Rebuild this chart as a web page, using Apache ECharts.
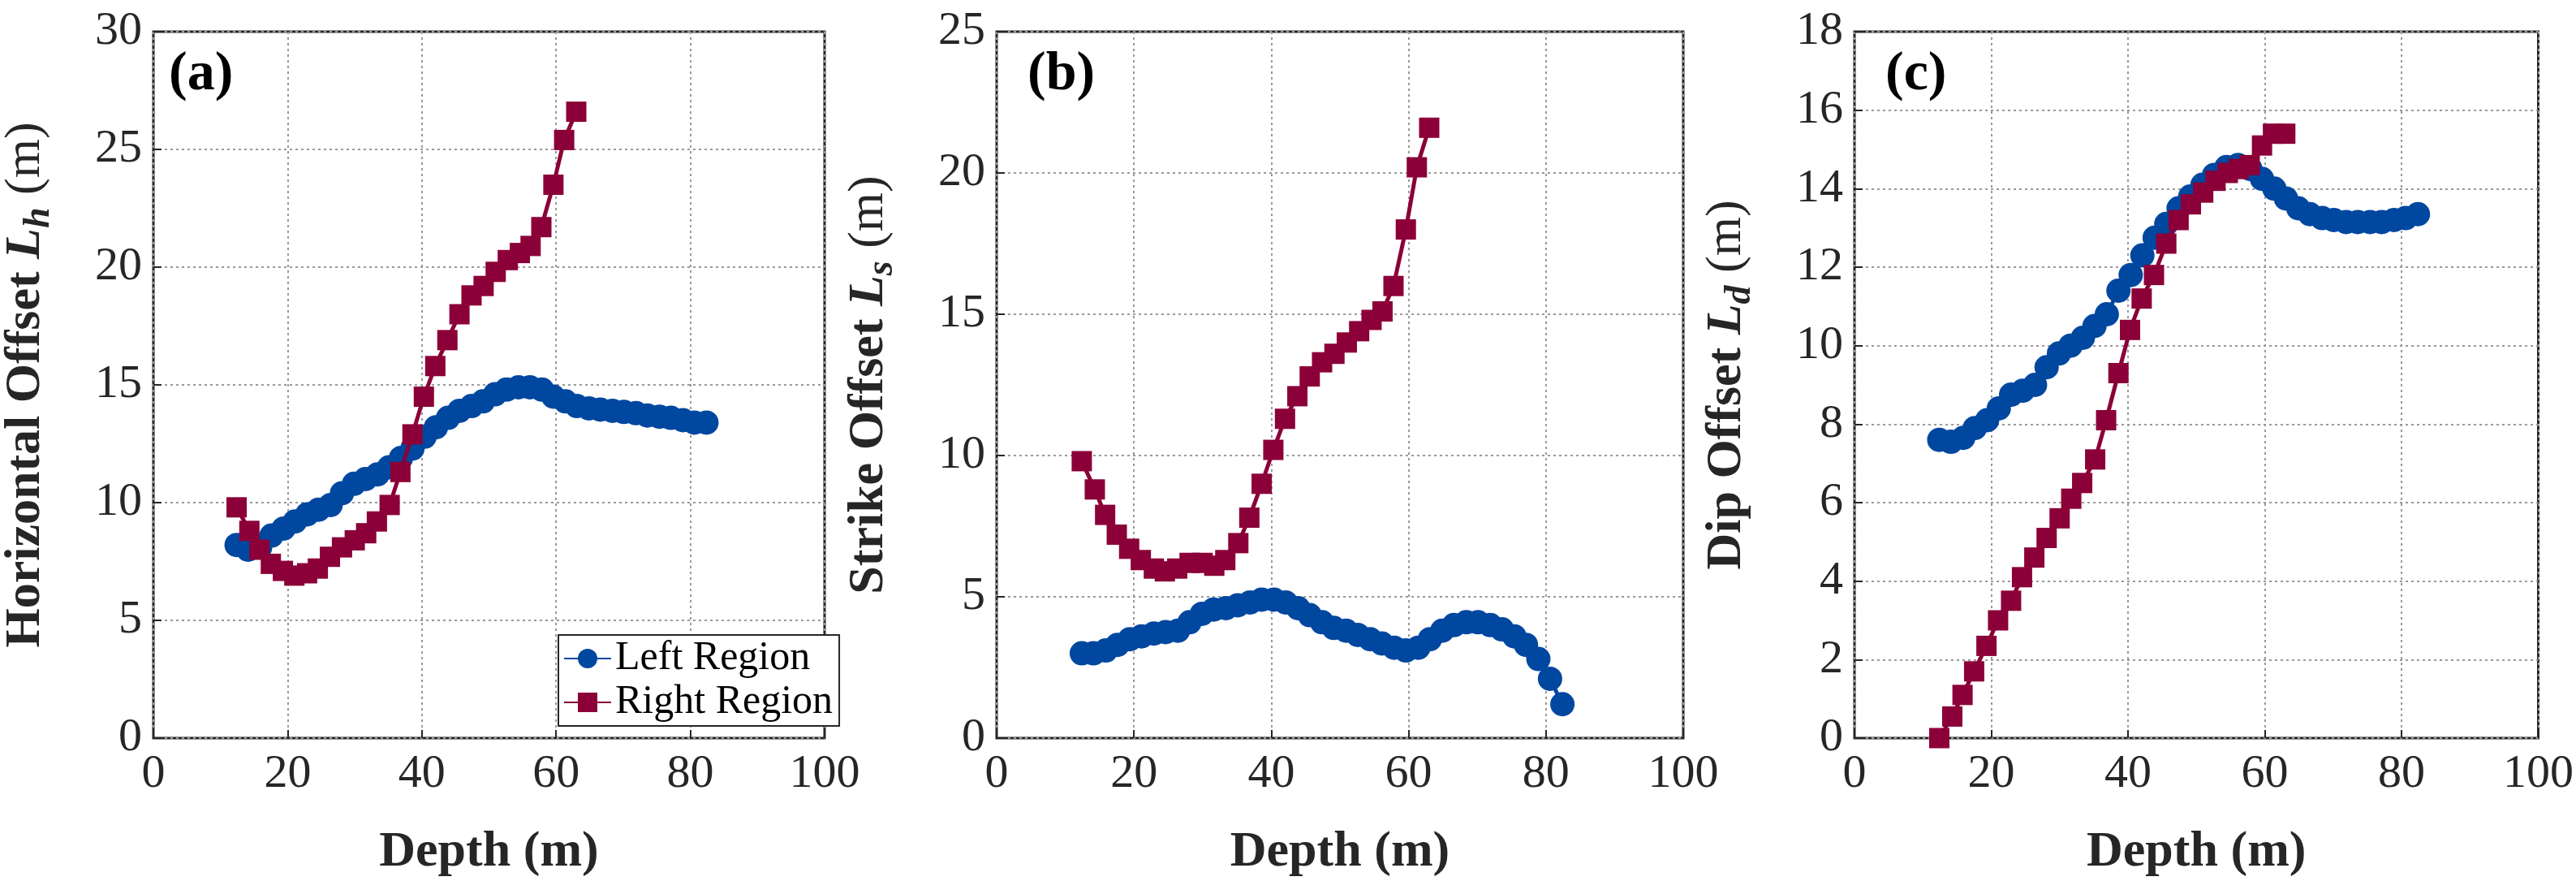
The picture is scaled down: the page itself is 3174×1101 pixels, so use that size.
<!DOCTYPE html>
<html>
<head>
<meta charset="utf-8">
<script src="https://cdn.jsdelivr.net/npm/echarts@6/dist/echarts.min.js"></script>
<style>html,body{margin:0;padding:0;background:#fff}#main{width:3174px;height:1101px}</style>
</head>
<body>
<div id="main"></div>
<script>
// depths (m)
var depthLeft = [12.4,14.1,15.9,17.6,19.4,21.1,22.9,24.6,26.4,28.1,29.9,31.6,33.4,35.1,36.9,38.6,40.4,42.1,43.9,45.6,47.4,49.1,50.9,52.6,54.4,56.1,57.9,59.6,61.4,63.1,64.9,66.6,68.4,70.1,71.9,73.6,75.4,77.1,78.9,80.6,82.4];
var depthRight = [12.4,14.3,15.8,17.5,19.3,21.0,22.9,24.5,26.3,28.1,30.0,31.7,33.3,35.2,36.8,38.6,40.3,42.0,43.8,45.6,47.4,49.2,51.0,52.8,54.6,56.2,57.8,59.6,61.2,63.0];

// (a) horizontal offset
var hLeft = [8.2,8.0,8.1,8.6,8.9,9.2,9.5,9.7,9.9,10.4,10.8,11.0,11.2,11.5,11.9,12.3,12.8,13.2,13.6,13.9,14.1,14.3,14.6,14.8,14.9,14.9,14.8,14.5,14.3,14.1,14.0,13.95,13.9,13.85,13.8,13.7,13.65,13.6,13.5,13.4,13.4];
var hRight = [9.8,8.8,8.0,7.4,7.1,6.9,7.0,7.2,7.7,8.1,8.4,8.7,9.2,9.9,11.3,12.9,14.5,15.8,16.9,18.0,18.8,19.2,19.8,20.3,20.6,20.9,21.7,23.5,25.4,26.6];
// (b) strike offset
var sLeft = [3.0,3.0,3.1,3.3,3.5,3.6,3.7,3.75,3.8,4.1,4.4,4.55,4.6,4.7,4.8,4.9,4.9,4.8,4.6,4.35,4.1,3.9,3.8,3.65,3.5,3.35,3.2,3.1,3.2,3.5,3.8,4.0,4.1,4.1,4.0,3.85,3.6,3.3,2.8,2.1,1.2];
var sRight = [9.8,8.8,7.9,7.2,6.7,6.3,6.0,5.9,6.0,6.2,6.2,6.1,6.3,6.9,7.8,9.0,10.2,11.3,12.1,12.8,13.3,13.6,14.0,14.4,14.8,15.1,16.0,18.0,20.2,21.6];
// (c) dip offset
var dLeft = [7.6,7.55,7.65,7.9,8.1,8.4,8.75,8.85,9.0,9.45,9.8,10.0,10.2,10.5,10.8,11.4,11.8,12.3,12.75,13.1,13.5,13.8,14.1,14.35,14.55,14.6,14.5,14.25,14.0,13.75,13.5,13.35,13.25,13.2,13.15,13.15,13.15,13.15,13.2,13.25,13.35];
var dRight = [0.0,0.55,1.1,1.7,2.35,3.0,3.5,4.1,4.6,5.1,5.6,6.1,6.5,7.1,8.1,9.3,10.4,11.2,11.8,12.6,13.2,13.6,13.9,14.2,14.4,14.5,14.6,15.1,15.4,15.4];

var yNames = [['Horizontal Offset ', 'h'], ['Strike Offset ', 's'], ['Dip Offset ', 'd']];
var yMax = [30, 25, 18];
var yInterval = [5, 5, 2];
var panelLabels = ['(a)', '(b)', '(c)'];
var gridLefts = [170, 1228, 2285];

var blue = '#0047a0', red = '#8b0038';
var font = 'Liberation Serif, Times New Roman, serif';

function pairs(xs, ys){
    var out = [];
    for (var i = 0; i < xs.length; i++) out.push([xs[i], ys[i]]);
    return out;
}

var leftSets = [hLeft, sLeft, dLeft];
var rightSets = [hRight, sRight, dRight];

var grids = [], xAxes = [], yAxes = [], series = [], graphics = [];
for (var k = 0; k < 3; k++) {
    grids.push({left: gridLefts[k], top: 39, width: 846, height: 870, show: true, borderColor: '#262626', borderWidth: 3, backgroundColor: 'transparent'});
    xAxes.push({
        gridIndex: k, type: 'value', min: 0, max: 100, interval: 20,
        name: 'Depth (m)', nameLocation: 'middle', nameGap: 110,
        nameTextStyle: {fontFamily: font, fontWeight: 'bold', fontSize: 62, color: '#262626'},
        axisLine: {show: false},
        axisTick: {inside: true, length: 10, lineStyle: {color: '#262626', width: 2}},
        axisLabel: {fontFamily: font, fontSize: 58, color: '#262626', margin: 16},
        splitLine: {lineStyle: {color: '#999', type: [3, 4], width: 2}}
    });
    yAxes.push({
        gridIndex: k, type: 'value', min: 0, max: yMax[k], interval: yInterval[k],
        name: '{b|' + yNames[k][0] + '}{i|L}{s|' + yNames[k][1] + '}{r| (m)}',
        nameLocation: 'middle', nameGap: 118, nameRotate: 90,
        nameTextStyle: {
            fontFamily: font, fontSize: 62, color: '#262626',
            rich: {
                b: {fontFamily: font, fontWeight: 'bold', fontSize: 62, color: '#262626'},
                i: {fontFamily: font, fontWeight: 'bold', fontStyle: 'italic', fontSize: 62, color: '#262626'},
                s: {fontFamily: font, fontWeight: 'bold', fontStyle: 'italic', fontSize: 46, color: '#262626', padding: [32, 0, 0, 0]},
                r: {fontFamily: font, fontSize: 62, color: '#262626'}
            }
        },
        axisLine: {show: false},
        axisTick: {inside: true, length: 10, lineStyle: {color: '#262626', width: 2}},
        axisLabel: {fontFamily: font, fontSize: 58, color: '#262626', margin: 14},
        splitLine: {lineStyle: {color: '#999', type: [3, 4], width: 2}}
    });
    series.push({
        name: 'Left Region', type: 'line', xAxisIndex: k, yAxisIndex: k,
        data: pairs(depthLeft, leftSets[k]), symbol: 'circle', symbolSize: 30,
        lineStyle: {color: blue, width: 5}, itemStyle: {color: blue}, z: 3
    });
    series.push({
        name: 'Right Region', type: 'line', xAxisIndex: k, yAxisIndex: k,
        data: pairs(depthRight, rightSets[k]), symbol: 'rect', symbolSize: 25,
        lineStyle: {color: red, width: 5}, itemStyle: {color: red}, z: 4
    });
    graphics.push({
        type: 'text', left: gridLefts[k] + 38, top: 58,
        style: {text: panelLabels[k], font: 'bold 68px ' + font, fill: '#000'}
    });
}

var myChart = echarts.init(document.getElementById('main'));
myChart.setOption({
    animation: false,
    backgroundColor: '#fff',
    grid: grids,
    xAxis: xAxes,
    yAxis: yAxes,
    series: series,
    graphic: graphics,
    legend: {
        left: 688, top: 782, orient: 'vertical', itemGap: 4,
        itemWidth: 58, itemHeight: 30,
        padding: [4, 8, 4, 6],
        backgroundColor: '#fff', borderColor: '#262626', borderWidth: 2,
        textStyle: {fontFamily: font, fontSize: 50, color: '#000'},
        data: ['Left Region', 'Right Region']
    }
});
</script>
</body>
</html>
